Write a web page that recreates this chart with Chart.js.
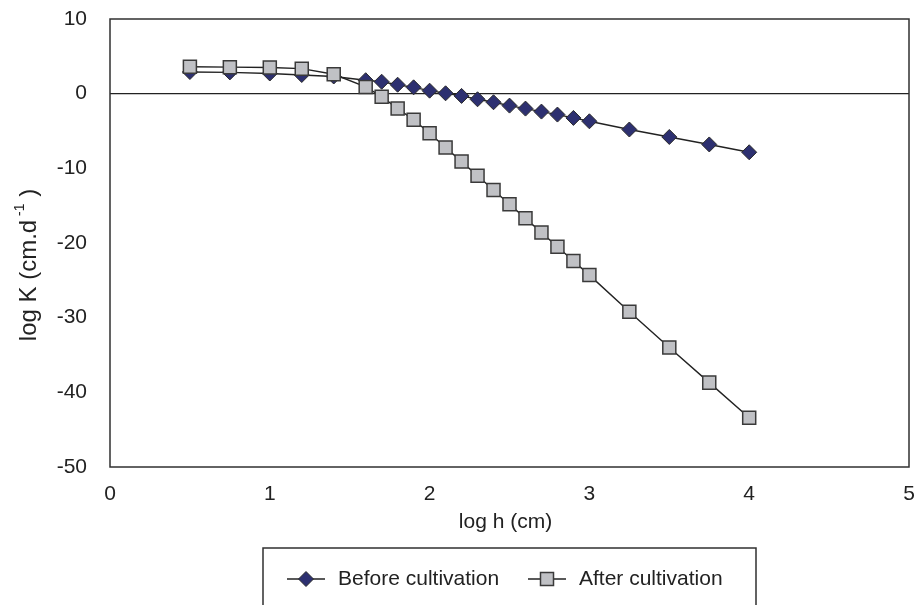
<!DOCTYPE html>
<html>
<head>
<meta charset="utf-8">
<script src="https://cdn.jsdelivr.net/npm/chart.js@4/dist/chart.umd.min.js"></script>
<style>
  html, body { margin: 0; padding: 0; background: #fff; }
  #wrap { width: 918px; height: 605px; position: relative; }
</style>
</head>
<body>
<div id="wrap"><canvas id="c"></canvas></div>
<script>
// ---- Data ----
const logH = [0.5, 0.75, 1.0, 1.2, 1.4, 1.6, 1.7, 1.8, 1.9, 2.0, 2.1, 2.2, 2.3, 2.4, 2.5, 2.6, 2.7, 2.8, 2.9, 3.0, 3.25, 3.5, 3.75, 4.0];
const beforeK = [2.9, 2.85, 2.7, 2.5, 2.3, 1.8, 1.6, 1.2, 0.85, 0.4, 0.05, -0.3, -0.75, -1.15, -1.6, -2.0, -2.4, -2.8, -3.25, -3.7, -4.8, -5.8, -6.8, -7.85];
const afterK = [3.6, 3.55, 3.5, 3.35, 2.6, 0.9, -0.4, -2.0, -3.5, -5.3, -7.2, -9.1, -11.0, -12.9, -14.8, -16.7, -18.6, -20.5, -22.4, -24.3, -29.2, -34.0, -38.7, -43.4];
const seriesNames = ['Before cultivation', 'After cultivation'];
const xTicks = [0, 1, 2, 3, 4, 5];
const yTicks = [10, 0, -10, -20, -30, -40, -50];
const xTitle = 'log h (cm)';
const yTitleMain = 'log K (cm.d';
const yTitleSup = '-1';
const yTitleEnd = ' )';

const FONT = 'Liberation Sans, Arial, Helvetica, sans-serif';
const toPts = (ys) => logH.map((x, i) => ({ x: x, y: ys[i] }));
const noPad = (s) => { s.paddingTop = 0; s.paddingBottom = 0; s.paddingLeft = 0; s.paddingRight = 0; };

const frameAndTitles = {
  id: 'frameAndTitles',
  afterDraw(chart) {
    const ctx = chart.ctx;
    const a = chart.chartArea;
    ctx.save();
    // plot frame
    ctx.strokeStyle = '#303030';
    ctx.lineWidth = 1.5;
    ctx.strokeRect(a.left, a.top, a.right - a.left, a.bottom - a.top);

    // x title
    ctx.fillStyle = '#222';
    ctx.font = '21px ' + FONT;
    ctx.textAlign = 'center';
    ctx.textBaseline = 'middle';
    ctx.fillText(xTitle, (a.left + a.right) / 2 - 4, a.bottom + 55);

    // y title (rotated) with superscript
    ctx.translate(29, (a.top + a.bottom) / 2 + 22);
    ctx.rotate(-Math.PI / 2);
    ctx.textAlign = 'left';
    ctx.textBaseline = 'middle';
    ctx.font = '24px ' + FONT;
    const w1 = ctx.measureText(yTitleMain).width;
    ctx.font = '14px ' + FONT;
    const w2 = ctx.measureText(' ' + yTitleSup).width;
    ctx.font = '24px ' + FONT;
    const w3 = ctx.measureText(yTitleEnd).width;
    const total = w1 + w2 + w3;
    let x0 = -total / 2;
    ctx.fillText(yTitleMain, x0, 0);
    ctx.font = '14px ' + FONT;
    ctx.fillText(' ' + yTitleSup, x0 + w1, -9);
    ctx.font = '24px ' + FONT;
    ctx.fillText(yTitleEnd, x0 + w1 + w2, 0);
    ctx.restore();

    // legend box
    const box = chart.options.plugins.frameAndTitles.legendBox;
    const cx = (a.left + a.right) / 2;
    const bl = cx - box.width / 2;
    ctx.save();
    ctx.strokeStyle = '#303030';
    ctx.lineWidth = 1.5;
    ctx.beginPath();
    ctx.moveTo(bl, chart.height + 5);
    ctx.lineTo(bl, box.top);
    ctx.lineTo(bl + box.width, box.top);
    ctx.lineTo(bl + box.width, chart.height + 5);
    ctx.stroke();
    chart.data.datasets.forEach((ds, i) => {
      const item = box.items[i];
      const sx = bl + item.offset;
      const y = box.itemY;
      ctx.strokeStyle = ds.borderColor;
      ctx.lineWidth = 1.3;
      ctx.beginPath();
      ctx.moveTo(sx, y);
      ctx.lineTo(sx + 38, y);
      ctx.stroke();
      ctx.fillStyle = ds.pointBackgroundColor;
      ctx.strokeStyle = ds.pointBorderColor;
      ctx.lineWidth = ds.pointBorderWidth;
      Chart.helpers.drawPoint(ctx, { pointStyle: ds.pointStyle, radius: ds.pointRadius, borderWidth: ds.pointBorderWidth, rotation: 0 }, sx + 19, y);
      ctx.fillStyle = '#222';
      ctx.font = '21px ' + FONT;
      ctx.textAlign = 'left';
      ctx.textBaseline = 'middle';
      ctx.fillText(ds.label, sx + 51, y);
    });
    ctx.restore();
  }
};

new Chart(document.getElementById('c'), {
  type: 'line',
  data: {
    datasets: [
      {
        label: seriesNames[0],
        data: toPts(beforeK),
        borderColor: '#222',
        borderWidth: 1.4,
        pointStyle: 'rectRot',
        pointRadius: 7.5,
        pointBackgroundColor: '#2d3070',
        pointBorderColor: '#2a2a2a',
        pointBorderWidth: 1,
        order: 1,
        tension: 0
      },
      {
        label: seriesNames[1],
        data: toPts(afterK),
        borderColor: '#222',
        borderWidth: 1.4,
        pointStyle: 'rect',
        pointRadius: 9.2,
        pointBackgroundColor: '#c0c1c5',
        pointBorderColor: '#3a3a3a',
        pointBorderWidth: 1.5,
        order: 0,
        tension: 0
      }
    ]
  },
  options: {
    responsive: true,
    maintainAspectRatio: false,
    animation: false,
    layout: { autoPadding: false, padding: { top: 19, right: 9, left: 0, bottom: 0 } },
    plugins: {
      legend: { display: false },
      tooltip: { enabled: false },
      frameAndTitles: {
        legendBox: {
          width: 493,
          top: 548,
          itemY: 579,
          items: [{ offset: 24 }, { offset: 265 }]
        }
      }
    },
    scales: {
      x: {
        type: 'linear',
        min: xTicks[0],
        max: xTicks[xTicks.length - 1],
        afterFit: (s) => { s.height = 138; noPad(s); },
        afterBuildTicks: (s) => { s.ticks = xTicks.map(v => ({ value: v })); },
        grid: { display: false, drawTicks: false },
        border: { display: false },
        ticks: { padding: 15, color: '#222', font: { family: FONT, size: 21 }, maxRotation: 0 }
      },
      y: {
        type: 'linear',
        min: yTicks[yTicks.length - 1],
        max: yTicks[0],
        afterFit: (s) => { s.width = 110; noPad(s); },
        afterBuildTicks: (s) => { s.ticks = yTicks.map(v => ({ value: v })); },
        grid: {
          drawTicks: false,
          color: (c) => (c.tick && c.tick.value === 0 ? '#222' : 'rgba(0,0,0,0)'),
          lineWidth: 1.3
        },
        border: { display: false },
        ticks: { padding: 23, color: '#222', font: { family: FONT, size: 21 } }
      }
    }
  },
  plugins: [frameAndTitles]
});
</script>
</body>
</html>
